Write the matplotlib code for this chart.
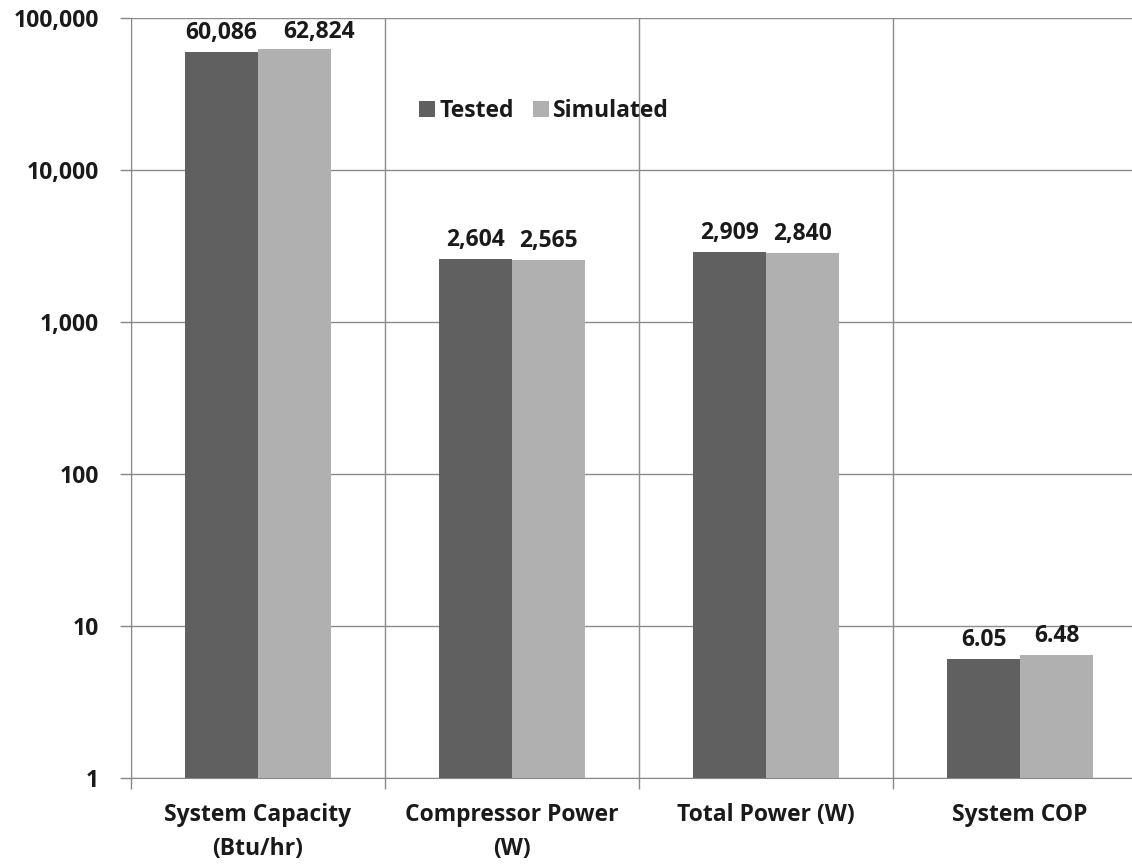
import matplotlib
matplotlib.use("Agg")
import matplotlib.pyplot as plt
import numpy as np
from matplotlib.ticker import FixedLocator, NullLocator

categories = ["System Capacity\n(Btu/hr)", "Compressor Power\n(W)", "Total Power (W)", "System COP"]
tested = [60086, 2604, 2909, 6.05]
simulated = [62824, 2565, 2840, 6.48]
tested_labels = ["60,086", "2,604", "2,909", "6.05"]
simulated_labels = ["62,824", "2,565", "2,840", "6.48"]
yticks = [1, 10, 100, 1000, 10000, 100000]
ytick_labels = ["1", "10", "100", "1,000", "10,000", "100,000"]

plt.rcParams['font.family'] = ['Open Sans', 'DejaVu Sans']

W, H = 1132, 864
fig = plt.figure(figsize=(W/100, H/100), dpi=100)
left, right, top, bottom = 131, 1147, 18, 778
ax = fig.add_axes([left/W, 1 - bottom/H, (right-left)/W, (bottom-top)/H])

FS = 16.5
TXT = "#1a1a1a"
x = np.arange(len(categories))
bw = 0.287
c_t = "#606060"
c_s = "#b0b0b0"
ax.bar(x - bw/2, tested, bw, color=c_t, label="Tested", zorder=3)
ax.bar(x + bw/2, simulated, bw, color=c_s, label="Simulated", zorder=3)

ax.set_yscale("log")
ax.set_ylim(1, 100000)
ax.set_xlim(-0.5, len(categories) - 0.5)
ax.yaxis.set_major_locator(FixedLocator(yticks))
ax.yaxis.set_minor_locator(NullLocator())
ax.set_yticklabels(ytick_labels, fontsize=FS, fontweight="bold", color=TXT)

ax.set_xticks(x)
ax.set_xticklabels(categories, fontsize=FS, fontweight="bold", color=TXT, linespacing=1.55)
ax.xaxis.set_minor_locator(FixedLocator(np.arange(-0.5, len(categories), 1.0)))
ax.tick_params(axis="x", which="major", length=0, pad=18)
ax.tick_params(axis="x", which="minor", length=8, color="#888888", width=1)
ax.tick_params(axis="y", which="major", length=8, color="#888888", width=1, pad=15)

ax.grid(True, axis="y", which="major", color="#8c8c8c", linewidth=1, zorder=0)
ax.grid(True, axis="x", which="minor", color="#8c8c8c", linewidth=1, zorder=0)
for s in ["top", "right"]:
    ax.spines[s].set_visible(False)
ax.spines["left"].set_color("#888888")
ax.spines["bottom"].set_color("#888888")

# horizontal nudge (points) of simulated labels where they would collide
sim_dx = [18, 0, 0, 0]
for i in range(len(categories)):
    ax.annotate(tested_labels[i], (x[i] - bw/2, tested[i]), xytext=(0, 5), textcoords="offset points",
                ha="center", va="bottom", fontsize=FS, fontweight="bold", color=TXT, zorder=4)
    ax.annotate(simulated_labels[i], (x[i] + bw/2, simulated[i]), xytext=(sim_dx[i], 5 if i else 3.5),
                textcoords="offset points",
                ha="center", va="bottom", fontsize=FS, fontweight="bold", color=TXT, zorder=4)

leg = ax.legend(loc="upper left", bbox_to_anchor=((410-left)/(right-left), 1 - (90-top)/(bottom-top)),
                ncol=2, frameon=False, prop={"weight": "bold", "size": FS},
                handlelength=0.7, handleheight=0.7, handletextpad=0.2, columnspacing=0.8,
                borderaxespad=0)
for t in leg.get_texts():
    t.set_color(TXT)

fig.savefig("out.png", dpi=100)
